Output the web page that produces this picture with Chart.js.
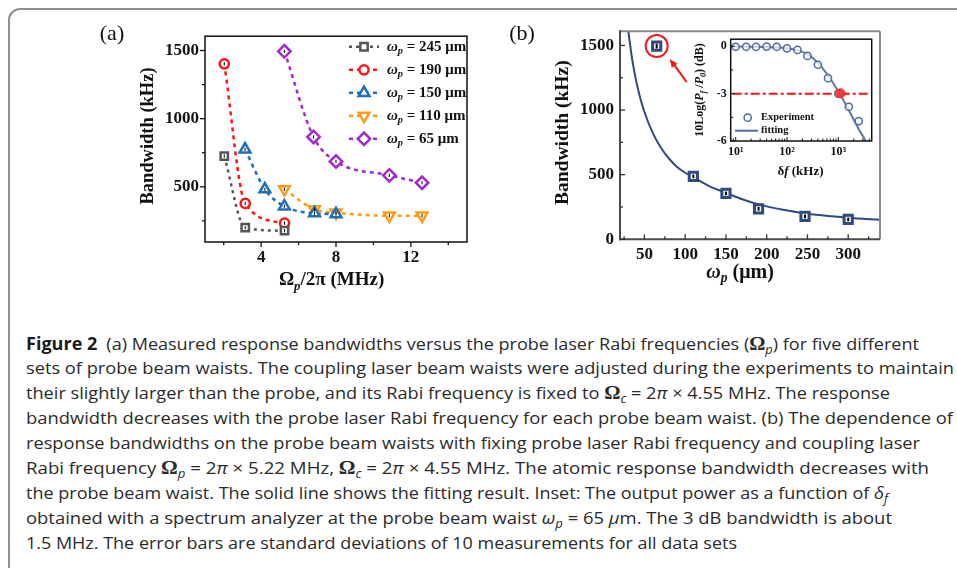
<!DOCTYPE html>
<html lang="en">
<head>
<meta charset="UTF-8">
<title>Figure 2 - response bandwidth</title>
<script src="https://cdn.jsdelivr.net/npm/chart.js"></script>
<style>
  html, body { margin: 0; padding: 0; background: #fff; }
  body { width: 957px; height: 568px; position: relative; overflow: hidden; }
  #frame { position: absolute; left: 8px; top: 8px; width: 1100px; height: 700px;
           border: 2px solid #8e8e8e; border-radius: 12px; }
  canvas { position: absolute; }
  #chartA { left: 100px; top: 20px; }
  #chartB { left: 490px; top: 15px; }
  #inset { left: 680px; top: 28px; }
  .ln { position: absolute; left: 26px; white-space: nowrap; font-family: "Open Sans", sans-serif;
        font-size: 17px; line-height: 25px; color: #2a2a2a; transform-origin: 0 50%; }
  .ln sub { font-size: 12px; line-height: 0; }
  .ln b { font-weight: 700; color: #1a1a1a; }
  .m { font-family: "Liberation Serif", serif; font-size: 19px; font-weight: bold; }
</style>
</head>
<body>
<div id="frame"></div>
<canvas id="chartA" width="380" height="280"></canvas>
<canvas id="chartB" width="410" height="280"></canvas>
<canvas id="inset" width="200" height="160"></canvas>

<div id="caption">
  <div class="ln" data-end="919"><b>Figure 2</b>&ensp;(a) Measured response bandwidths versus the probe laser Rabi frequencies (<span class="m">Ω</span><sub><i>p</i></sub>) for five different</div>
  <div class="ln" data-end="954">sets of probe beam waists. The coupling laser beam waists were adjusted during the experiments to maintain</div>
  <div class="ln" data-end="890">their slightly larger than the probe, and its Rabi frequency is fixed to <span class="m">Ω</span><sub><i>c</i></sub> = 2<i>π</i> × 4.55 MHz. The response</div>
  <div class="ln" data-end="953">bandwidth decreases with the probe laser Rabi frequency for each probe beam waist. (b) The dependence of</div>
  <div class="ln" data-end="920">response bandwidths on the probe beam waists with fixing probe laser Rabi frequency and coupling laser</div>
  <div class="ln" data-end="929">Rabi frequency <span class="m">Ω</span><sub><i>p</i></sub> = 2<i>π</i> × 5.22 MHz, <span class="m">Ω</span><sub><i>c</i></sub> = 2<i>π</i> × 4.55 MHz. The atomic response bandwidth decreases with</div>
  <div class="ln" data-end="888">the probe beam waist. The solid line shows the fitting result. Inset: The output power as a function of <i>δ<sub>f</sub></i></div>
  <div class="ln" data-end="892">obtained with a spectrum analyzer at the probe beam waist <i>ω<sub>p</sub></i> = 65 <i>μ</i>m. The 3 dB bandwidth is about</div>
  <div class="ln" data-end="737">1.5 MHz. The error bars are standard deviations of 10 measurements for all data sets</div>
</div>

<script>
// ---- panel (a): bandwidth vs probe Rabi frequency (MHz), kHz ----
const waistLabels = ['245', '190', '150', '110', '65'];
const rabi245 = [2.03, 3.15, 5.25];
const bw245   = [725, 200, 178];
const rabi190 = [2.03, 3.15, 5.25];
const bw190   = [1402, 378, 234];
const rabi150 = [3.14, 4.2, 5.24, 6.85, 8.0];
const bw150   = [775, 482, 357, 306, 300];
const rabi110 = [5.24, 6.85, 8.0, 10.85, 12.6];
const bw110   = [482, 334, 310, 288, 288];
const rabi65  = [5.24, 6.8, 8.0, 10.85, 12.6];
const bw65    = [1494, 866, 686, 584, 530];
const errA    = [12, 12, 12, 12, 12];
const ticksAx = [4, 8, 12];
const ticksAy = [500, 1000, 1500];

// ---- panel (b): bandwidth vs probe beam waist ----
const waistUm = [65, 110, 150, 190, 247, 300];
const bwWaist = [1495, 487, 355, 236, 177, 154];
const errB    = [18, 14, 14, 14, 14, 14];
const fitWaist = [30, 35, 40, 45, 50, 60, 70, 80, 90, 100, 110, 130, 150, 170, 190, 220, 250, 280, 300, 340];
const fitBw    = [1620, 1390, 1220, 1090, 985, 825, 710, 625, 560, 515, 480, 410, 360, 310, 270, 228, 198, 178, 167, 150];
const ticksBx = [50, 100, 150, 200, 250, 300];
const ticksBy = [0, 500, 1000, 1500];

// ---- inset: output power vs delta f ----
const deltaF = [10, 16, 25, 40, 63, 100, 160, 250, 400, 630, 1000, 1600, 2500];
const powerDb = [-0.03, -0.03, -0.03, -0.02, -0.03, -0.13, -0.23, -0.61, -1.17, -2.02, -3.0, -3.83, -4.74];
const fitDeltaF = [8, 10, 20, 40, 63, 100, 160, 250, 400, 630, 1000, 1600, 2500, 3400, 4000];
const fitDb     = [-0.02, -0.02, -0.03, -0.05, -0.07, -0.12, -0.25, -0.5, -1.05, -1.85, -2.85, -4.05, -5.25, -6.0, -6.5];
const point3dBx = [1100];
const point3dBy = [-2.98];
const ticksIx = [10, 100, 1000];
const ticksIy = [0, -3, -6];

const SERIF = '"Liberation Serif", "Times New Roman", serif';
const pts = (xs, ys) => xs.map((x, i) => ({ x: x, y: ys[i] }));

// draw text made of pieces: [text, flags] b=bold i=italic s=sub u=sup n=normal
function rich(ctx, segs, x, y, size, align) {
  let w = 0;
  const items = segs.map(([t, f]) => {
    f = f || 'b';
    const small = f.includes('s') || f.includes('u');
    const sz = small ? size * 0.68 : size;
    const font = (f.includes('i') ? 'italic ' : '') + (f.includes('b') ? 'bold ' : '') + sz + 'px ' + SERIF;
    ctx.font = font;
    const tw = ctx.measureText(t).width;
    w += tw;
    return { t, font, tw, dy: f.includes('s') ? size * 0.3 : f.includes('u') ? -size * 0.35 : 0 };
  });
  let cx = align === 'center' ? x - w / 2 : align === 'right' ? x - w : x;
  ctx.textAlign = 'left';
  ctx.textBaseline = 'middle';
  items.forEach(it => { ctx.font = it.font; ctx.fillText(it.t, cx, y + it.dy); cx += it.tw; });
}
function richRot(ctx, segs, x, y, size) {
  ctx.save();
  ctx.translate(x, y);
  ctx.rotate(-Math.PI / 2);
  rich(ctx, segs, 0, 0, size, 'center');
  ctx.restore();
}
function marker(ctx, style, x, y, r, rot) {
  ctx.beginPath();
  if (style === 'rect') {
    const s = r * Math.SQRT1_2;
    ctx.rect(x - s, y - s, 2 * s, 2 * s);
  } else if (style === 'circle') {
    ctx.arc(x, y, r, 0, Math.PI * 2);
  } else if (style === 'triangle') {
    let a = (rot || 0) * Math.PI / 180;
    ctx.moveTo(x + Math.sin(a) * r, y - Math.cos(a) * r);
    for (let k = 0; k < 2; k++) { a += Math.PI * 2 / 3; ctx.lineTo(x + Math.sin(a) * r, y - Math.cos(a) * r); }
    ctx.closePath();
  } else if (style === 'rectRot') {
    ctx.moveTo(x - r, y); ctx.lineTo(x, y - r); ctx.lineTo(x + r, y); ctx.lineTo(x, y + r);
    ctx.closePath();
  }
  ctx.fill();
  ctx.stroke();
}
function line(ctx, x1, y1, x2, y2) {
  ctx.beginPath(); ctx.moveTo(x1, y1); ctx.lineTo(x2, y2); ctx.stroke();
}
function fixedTicks(list) {
  return s => { s.ticks = list.map(v => ({ value: v })); };
}
const plain = v => String(v);

// ---------------- panel (a) ----------------
const seriesA = [
  { x: rabi245, y: bw245, color: '#555555', style: 'rect', r: 5.2, rot: 0, dash: [3, 4] },
  { x: rabi190, y: bw190, color: '#ff1414', style: 'circle', r: 4.6, rot: 0, dash: [4, 4] },
  { x: rabi150, y: bw150, color: '#1c6fb8', style: 'triangle', r: 6.2, rot: 0, dash: [4, 4] },
  { x: rabi110, y: bw110, color: '#ff9a14', style: 'triangle', r: 6.2, rot: 180, dash: [4, 4] },
  { x: rabi65,  y: bw65,  color: '#a126d4', style: 'rectRot', r: 6.2, rot: 0, dash: [4, 4] }
];

const panelAPlugin = {
  id: 'panelA',
  afterDatasetsDraw(chart) {
    const ctx = chart.ctx, xs = chart.scales.x, ys = chart.scales.y, a = chart.chartArea;
    ctx.save();
    // error bars
    ctx.strokeStyle = '#000'; ctx.lineWidth = 1;
    seriesA.forEach(s => s.x.forEach((xv, i) => {
      const px = xs.getPixelForValue(xv);
      line(ctx, px, ys.getPixelForValue(s.y[i] - errA[i]), px, ys.getPixelForValue(s.y[i] + errA[i]));
    }));
    // frame
    ctx.strokeStyle = '#111'; ctx.lineWidth = 1.5;
    ctx.strokeRect(a.left, a.top, a.right - a.left, a.bottom - a.top);
    // outward ticks
    ctx.lineWidth = 1.3;
    [250, 500, 750, 1000, 1250, 1500].forEach(v => {
      const py = ys.getPixelForValue(v);
      line(ctx, a.left, py, a.left - (v % 500 ? 3 : 5), py);
    });
    [2, 4, 6, 8, 10, 12, 14].forEach(v => {
      const px = xs.getPixelForValue(v);
      line(ctx, px, a.bottom, px, a.bottom + (v % 4 ? 3 : 5));
    });
    // legend
    ctx.fillStyle = '#111';
    seriesA.forEach((s, i) => {
      const y = 26.8 + i * 23;
      ctx.strokeStyle = s.color; ctx.lineWidth = 2.5; ctx.setLineDash(s.dash);
      line(ctx, 249, y, 279, y);
      ctx.setLineDash([]);
      ctx.fillStyle = '#fff';
      marker(ctx, s.style, 264, y, s.r, s.rot);
      ctx.fillStyle = '#111';
      rich(ctx, [['ω', 'bi'], ['p', 'bis'], [' = ' + waistLabels[i] + ' μm', 'b']], 287, y, 15, 'left');
    });
    // titles
    richRot(ctx, [['Bandwidth (kHz)', 'b']], 48.7, 116, 18.5);
    rich(ctx, [['Ω', 'b'], ['p', 'bis'], ['/2', 'b'], ['π', 'b'], [' (MHz)', 'b']], 231.6, 260.5, 19, 'center');
    rich(ctx, [['(a)', 'n']], 12, 14, 22, 'center');
    ctx.restore();
  }
};

new Chart(document.getElementById('chartA'), {
  type: 'line',
  data: {
    datasets: seriesA.map(s => ({
      data: pts(s.x, s.y),
      borderColor: s.color,
      borderWidth: 2.5,
      borderDash: s.dash,
      cubicInterpolationMode: 'monotone',
      pointStyle: s.style,
      pointRotation: s.rot,
      pointRadius: s.r,
      pointBorderWidth: 2.5,
      pointBorderColor: s.color,
      pointBackgroundColor: '#fff',
      fill: false
    }))
  },
  options: {
    responsive: false,
    animation: false,
    events: [],
    layout: { padding: { top: 12, right: 13, left: 0, bottom: 0 } },
    plugins: { legend: { display: false }, tooltip: { enabled: false } },
    scales: {
      x: {
        type: 'linear', min: 1, max: 15,
        afterBuildTicks: fixedTicks(ticksAx),
        afterFit: s => { s.height = 58; },
        grid: { display: false, drawTicks: false },
        border: { display: false },
        ticks: { padding: 5, color: '#111', callback: plain, font: { family: SERIF, size: 17, weight: 'bold' }, maxRotation: 0, autoSkip: false }
      },
      y: {
        type: 'linear', min: 95, max: 1605,
        afterBuildTicks: fixedTicks(ticksAy),
        afterFit: s => { s.width = 105; },
        grid: { display: false, drawTicks: false },
        border: { display: false },
        ticks: { padding: 6, color: '#111', callback: plain, font: { family: SERIF, size: 17, weight: 'bold' }, autoSkip: false }
      }
    }
  },
  plugins: [panelAPlugin]
});

// ---------------- panel (b) ----------------
const navy = '#2d4c7c';
const panelBPlugin = {
  id: 'panelB',
  afterDatasetsDraw(chart) {
    const ctx = chart.ctx, xs = chart.scales.x, ys = chart.scales.y, a = chart.chartArea;
    ctx.save();
    ctx.strokeStyle = '#000'; ctx.lineWidth = 2;
    waistUm.forEach((w, i) => {
      const px = xs.getPixelForValue(w);
      line(ctx, px, ys.getPixelForValue(bwWaist[i] - errB[i]), px, ys.getPixelForValue(bwWaist[i] + errB[i]));
    });
    // red highlight of the 65 um point and arrow
    const p0x = xs.getPixelForValue(waistUm[0]), p0y = ys.getPixelForValue(bwWaist[0]);
    ctx.strokeStyle = '#f01818'; ctx.fillStyle = '#f01818'; ctx.lineWidth = 2;
    ctx.beginPath(); ctx.arc(p0x, p0y, 11, 0, Math.PI * 2); ctx.stroke();
    const tx = p0x + 30, ty = p0y + 36, hx = p0x + 13, hy = p0y + 13;
    line(ctx, tx, ty, hx + 4, hy + 5);
    const ang = Math.atan2(hy - ty, hx - tx);
    ctx.beginPath();
    ctx.moveTo(hx, hy);
    ctx.lineTo(hx - 9 * Math.cos(ang - 0.4), hy - 9 * Math.sin(ang - 0.4));
    ctx.lineTo(hx - 9 * Math.cos(ang + 0.4), hy - 9 * Math.sin(ang + 0.4));
    ctx.closePath(); ctx.fill();
    // frame
    ctx.lineWidth = 2;
    ctx.strokeStyle = '#8a8a8a';
    line(ctx, a.left, a.top, a.right, a.top);
    line(ctx, a.right, a.top, a.right, a.bottom);
    ctx.strokeStyle = '#4a4a4a';
    line(ctx, a.left, a.top - 1, a.left, a.bottom + 1);
    line(ctx, a.left - 1, a.bottom, a.right, a.bottom);
    // inward ticks
    ctx.lineWidth = 1.3; ctx.strokeStyle = '#333';
    [0, 250, 500, 750, 1000, 1250, 1500].forEach(v => {
      const py = ys.getPixelForValue(v);
      line(ctx, a.left, py, a.left + (v % 500 ? 3 : 5), py);
    });
    [25, 50, 75, 100, 125, 150, 175, 200, 225, 250, 275, 300, 325].forEach(v => {
      const px = xs.getPixelForValue(v);
      line(ctx, px, a.bottom, px, a.bottom - (v % 50 ? 3 : 5));
    });
    ctx.fillStyle = '#111';
    richRot(ctx, [['Bandwidth (kHz)', 'b']], 72.7, 117.7, 19.5);
    rich(ctx, [['ω', 'bi'], ['p', 'bis'], [' (μm)', 'b']], 250, 257.5, 20, 'center');
    rich(ctx, [['(b)', 'n']], 32, 19, 22, 'center');
    ctx.restore();
  }
};

new Chart(document.getElementById('chartB'), {
  type: 'line',
  data: {
    datasets: [
      {
        data: pts(waistUm, bwWaist),
        showLine: false,
        pointStyle: 'rect',
        pointRadius: 5.8,
        pointBorderWidth: 3,
        pointBorderColor: navy,
        pointBackgroundColor: '#f4f6fa'
      },
      {
        data: pts(fitWaist, fitBw),
        borderColor: navy,
        borderWidth: 2,
        cubicInterpolationMode: 'monotone',
        pointRadius: 0,
        fill: false
      }
    ]
  },
  options: {
    responsive: false,
    animation: false,
    events: [],
    layout: { padding: { top: 12.5, right: 20, left: 0, bottom: 0 } },
    plugins: { legend: { display: false }, tooltip: { enabled: false } },
    scales: {
      x: {
        type: 'linear', min: 20, max: 339,
        afterBuildTicks: fixedTicks(ticksBx),
        afterFit: s => { s.height = 55.7; },
        grid: { display: false, drawTicks: false },
        border: { display: false },
        ticks: { padding: 5, color: '#111', callback: plain, font: { family: SERIF, size: 17, weight: 'bold' }, maxRotation: 0, autoSkip: false }
      },
      y: {
        type: 'linear', min: 0, max: 1610,
        afterBuildTicks: fixedTicks(ticksBy),
        afterFit: s => { s.width = 130; },
        grid: { display: false, drawTicks: false },
        border: { display: false },
        ticks: { padding: 6, color: '#111', callback: plain, font: { family: SERIF, size: 17, weight: 'bold' }, autoSkip: false }
      }
    }
  },
  plugins: [panelBPlugin]
});

// ---------------- inset ----------------
const steel = '#4d6c9c';
const insetPlugin = {
  id: 'inset',
  beforeDatasetsDraw(chart) {
    const ctx = chart.ctx, a = chart.chartArea;
    ctx.save();
    ctx.fillStyle = '#fff';
    ctx.fillRect(a.left, a.top, a.right - a.left, a.bottom - a.top);
    // -3 dB dash-dot line
    const y3 = chart.scales.y.getPixelForValue(-3);
    ctx.strokeStyle = '#ff1010'; ctx.lineWidth = 2; ctx.setLineDash([9, 3, 3, 3]);
    line(ctx, a.left + 2, y3, a.right - 4, y3);
    ctx.restore();
  },
  afterDatasetsDraw(chart) {
    const ctx = chart.ctx, xs = chart.scales.x, ys = chart.scales.y, a = chart.chartArea;
    ctx.save();
    ctx.strokeStyle = '#111'; ctx.lineWidth = 1.5;
    ctx.strokeRect(a.left, a.top, a.right - a.left, a.bottom - a.top);
    ctx.lineWidth = 1;
    [0, -1.5, -3, -4.5, -6].forEach(v => {
      const py = ys.getPixelForValue(v);
      line(ctx, a.left, py, a.left + (v % 3 ? 2.5 : 4), py);
    });
    [1, 10, 100, 1000].forEach(dec => {
      for (let k = 1; k <= 9; k++) {
        const v = dec * k;
        if (v < xs.min || v > xs.max) continue;
        const px = xs.getPixelForValue(v);
        line(ctx, px, a.bottom, px, a.bottom - (k === 1 ? 4 : 2.5));
      }
    });
    // legend
    ctx.strokeStyle = steel; ctx.lineWidth = 1.5; ctx.fillStyle = '#fff';
    marker(ctx, 'circle', 67.7, 89.7, 3.6, 0);
    ctx.lineWidth = 2;
    line(ctx, 55, 102.7, 78, 102.7);
    ctx.fillStyle = '#111';
    rich(ctx, [['Experiment', 'b']], 81, 89.7, 10.5, 'left');
    rich(ctx, [['fitting', 'b']], 81, 102.7, 10.5, 'left');
    // titles
    richRot(ctx, [['10Log(', 'b'], ['P', 'bi'], ['f', 'bis'], [' /', 'b'], ['P', 'bi'], ['0', 'bis'], [') (dB)', 'b']], 20, 62, 12);
    rich(ctx, [['δ', 'b'], ['f', 'bi'], [' (kHz)', 'b']], 120.5, 144, 13, 'center');
    ctx.restore();
  }
};

new Chart(document.getElementById('inset'), {
  type: 'line',
  data: {
    datasets: [
      {
        data: pts(point3dBx, point3dBy),
        showLine: false,
        pointRadius: 4.6,
        pointBorderWidth: 1,
        pointBorderColor: '#ff2a2a',
        pointBackgroundColor: 'rgba(255,40,40,0.85)'
      },
      {
        data: pts(deltaF, powerDb),
        showLine: false,
        pointRadius: 3.6,
        pointBorderWidth: 1.5,
        pointBorderColor: steel,
        pointBackgroundColor: 'rgba(255,255,255,0.7)'
      },
      {
        data: pts(fitDeltaF, fitDb),
        borderColor: '#5a79a8',
        borderWidth: 2,
        cubicInterpolationMode: 'monotone',
        pointRadius: 0,
        fill: false
      }
    ]
  },
  options: {
    responsive: false,
    animation: false,
    events: [],
    layout: { padding: { top: 10.3, right: 8.3, left: 0, bottom: 0 } },
    plugins: { legend: { display: false }, tooltip: { enabled: false } },
    scales: {
      x: {
        type: 'logarithmic', min: 8, max: 4470,
        afterBuildTicks: fixedTicks(ticksIx),
        afterFit: s => { s.height = 47; },
        grid: { display: false, drawTicks: false },
        border: { display: false },
        ticks: {
          padding: 4, color: '#111', font: { family: SERIF, size: 12, weight: 'bold' },
          maxRotation: 0, autoSkip: false,
          callback: v => '10' + ({ 10: '¹', 100: '²', 1000: '³' })[v]
        }
      },
      y: {
        type: 'linear', min: -6, max: 0.45,
        afterBuildTicks: fixedTicks(ticksIy),
        afterFit: s => { s.width = 50.7; },
        grid: { display: false, drawTicks: false },
        border: { display: false },
        ticks: { padding: 4, color: '#111', callback: plain, font: { family: SERIF, size: 12, weight: 'bold' }, autoSkip: false }
      }
    }
  },
  plugins: [insetPlugin]
});

// ---------------- caption layout ----------------
function layoutCaption() {
  document.querySelectorAll('.ln').forEach((el, i) => {
    el.style.top = (343 - 12.5 + i * 24.9) + 'px';
    el.style.transform = 'none';
    const w = el.getBoundingClientRect().width;
    const target = +el.dataset.end - 26;
    el.style.transform = 'scaleX(' + (target / w).toFixed(4) + ')';
  });
}
layoutCaption();
if (document.fonts && document.fonts.ready) document.fonts.ready.then(layoutCaption);
</script>
</body>
</html>
